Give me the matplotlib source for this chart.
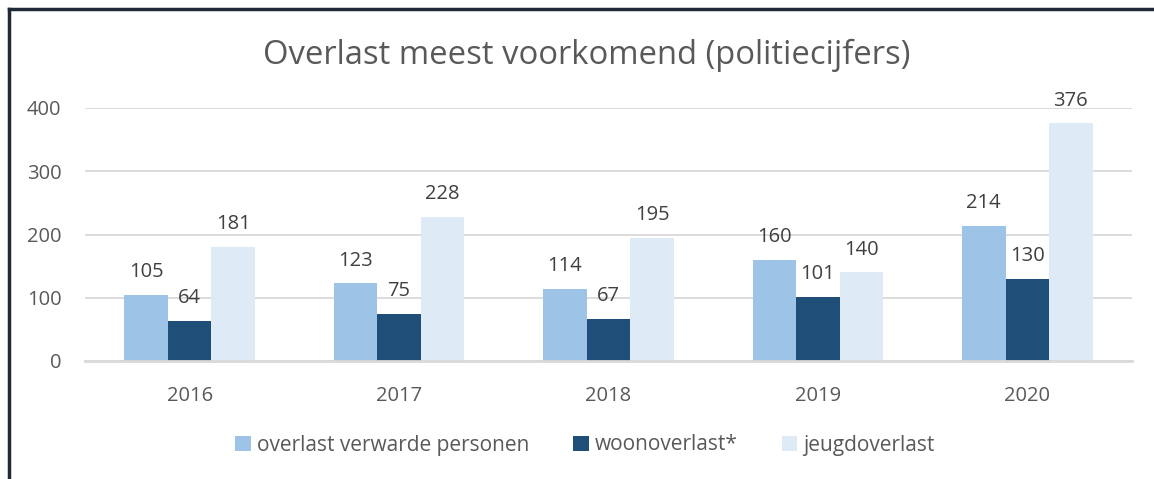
import numpy as np
import matplotlib.pyplot as plt
from matplotlib.lines import Line2D

plt.rcParams['font.family'] = ['Open Sans', 'DejaVu Sans']

years = ["2016", "2017", "2018", "2019", "2020"]
verwarde = [105, 123, 114, 160, 214]
woon = [64, 75, 67, 101, 130]
jeugd = [181, 228, 195, 140, 376]
series_names = ["overlast verwarde personen", "woonoverlast*", "jeugdoverlast"]
colors = ["#9DC3E6", "#1F4E79", "#DEEBF7"]
yticks = [0, 100, 200, 300, 400]

txt = "#595959"
fig = plt.figure(figsize=(11.54, 4.79), dpi=100)
ax = fig.add_axes([85 / 1154, 1 - 361 / 479, (1132 - 85) / 1154, (361 - 108) / 479])

x = np.arange(len(years))
w = 0.208
for i, (vals, name, c) in enumerate(zip([verwarde, woon, jeugd], series_names, colors)):
    bars = ax.bar(x + (i - 1) * w, vals, w, color=c, label=name, zorder=3)
    for b, v in zip(bars, vals):
        ax.text(b.get_x() + b.get_width() / 2, v + 20, str(v), ha="center", va="bottom",
                fontsize=14.5, color="#404040")

ax.set_xlim(-0.5, len(years) - 0.5)
ax.set_ylim(0, 400)
ax.set_yticks(yticks)
ax.set_xticks(x)
ax.set_xticklabels(years)
ax.grid(axis="y", color="#D9D9D9", linewidth=1.3, zorder=0)
ax.tick_params(axis="both", length=0, labelsize=14.5, labelcolor=txt)
ax.tick_params(axis="y", pad=17)
ax.tick_params(axis="x", pad=18)
for s in ["top", "right", "left"]:
    ax.spines[s].set_visible(False)
ax.spines["bottom"].set_color("#D9D9D9")
ax.spines["bottom"].set_linewidth(2)
ax.spines["bottom"].set_zorder(4)

fig.text(0.508, 1 - 55 / 479, "Overlast meest voorkomend (politiecijfers)", ha="center", va="center",
         fontsize=23.6, color=txt)

fig.legend(loc="center", bbox_to_anchor=(0.507, 1 - 445 / 479), ncol=3, frameon=False,
           fontsize=15, labelcolor=txt, handlelength=0.75, handleheight=0.75,
           handletextpad=0.3, columnspacing=2.1)

# outer frame (top and left edges)
fig.add_artist(Line2D([9 / 1154, 9 / 1154], [0, 1 - 9 / 479], color="#1F2A36", linewidth=2.5))
fig.add_artist(Line2D([9 / 1154, 1], [1 - 9 / 479, 1 - 9 / 479], color="#1F2A36", linewidth=2.5))

fig.savefig("out.png", dpi=100)
